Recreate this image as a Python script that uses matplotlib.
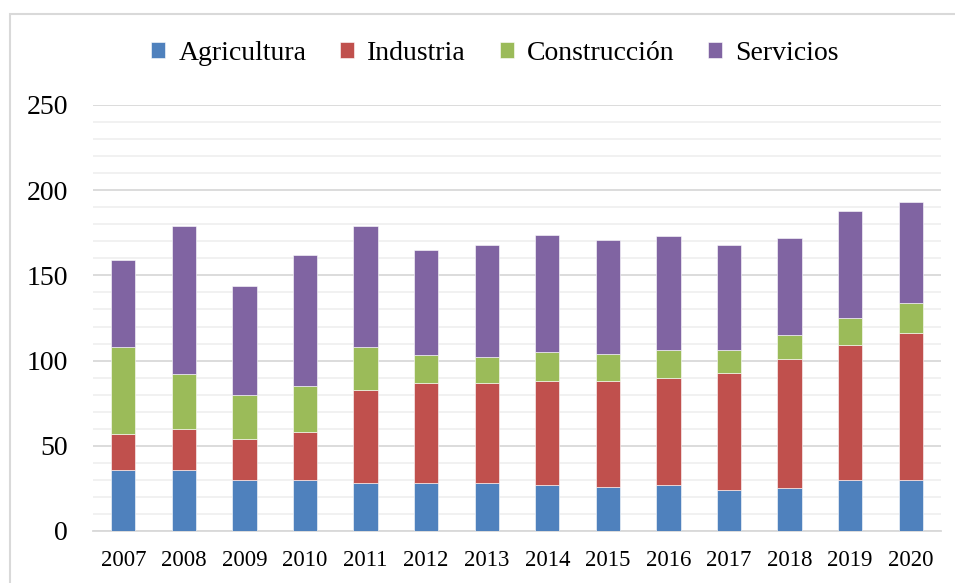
import numpy as np
import matplotlib.pyplot as plt
from matplotlib.patches import Rectangle
from matplotlib.ticker import MultipleLocator

plt.rcParams['font.family'] = ['Liberation Serif', 'DejaVu Serif']

years = ['2007', '2008', '2009', '2010', '2011', '2012', '2013',
         '2014', '2015', '2016', '2017', '2018', '2019', '2020']
agricultura = [36, 36, 30, 30, 28, 28, 28, 27, 26, 27, 24, 25, 30, 30]
industria = [21, 24, 24, 28, 55, 59, 59, 61, 62, 63, 69, 76, 79, 86]
construccion = [51, 32, 26, 27, 25, 16, 15, 17, 16, 16, 13, 14, 16, 18]
servicios = [51, 87, 64, 77, 71, 62, 66, 69, 67, 67, 62, 57, 63, 59]

series = [('Agricultura', agricultura, '#4f81bd'),
          ('Industria', industria, '#c0504d'),
          ('Construcción', construccion, '#9bbb59'),
          ('Servicios', servicios, '#8064a2')]

fig = plt.figure(figsize=(9.55, 5.83), dpi=100)
ax = fig.add_axes([0.0974, 0.0892, 0.8879, 0.7307])

# chart area border
fig.patches.append(Rectangle((10 / 955, -0.05), 1.0, 1 - 14 / 583 + 0.05,
                             transform=fig.transFigure, fill=False,
                             edgecolor='#d9d9d9', linewidth=1.5))

x = np.arange(len(years))
bottom = np.zeros(len(years))
for name, vals, col in series:
    ax.bar(x, vals, width=0.4, bottom=bottom, color=col, label=name,
           edgecolor='white', linewidth=0.4, zorder=3)
    bottom += np.array(vals)

ax.set_xlim(-0.5, len(years) - 0.5)
ax.set_ylim(0, 250)
ax.yaxis.set_major_locator(MultipleLocator(50))
ax.yaxis.set_minor_locator(MultipleLocator(10))
ax.grid(axis='y', which='major', color='#d9d9d9', linewidth=1.3, zorder=0)
ax.grid(axis='y', which='minor', color='#f0f0f0', linewidth=1.3, zorder=0)
ax.set_axisbelow(True)

for s in ['top', 'left', 'right']:
    ax.spines[s].set_visible(False)
ax.spines['bottom'].set_color('#d9d9d9')
ax.spines['bottom'].set_linewidth(1.3)

ax.set_xticks(x)
ax.set_xticklabels(years, fontsize=16.5)
ax.tick_params(axis='x', length=0, pad=14)
ax.tick_params(axis='y', which='both', length=0, labelsize=20, pad=18)

ax.legend(loc='center', bbox_to_anchor=(495 / 955, 1 - 53 / 583), bbox_transform=fig.transFigure,
          ncol=4, frameon=False, fontsize=20, handlelength=0.5, handleheight=0.5,
          handletextpad=0.47, columnspacing=1.22)

fig.savefig('out.png', dpi=100)
